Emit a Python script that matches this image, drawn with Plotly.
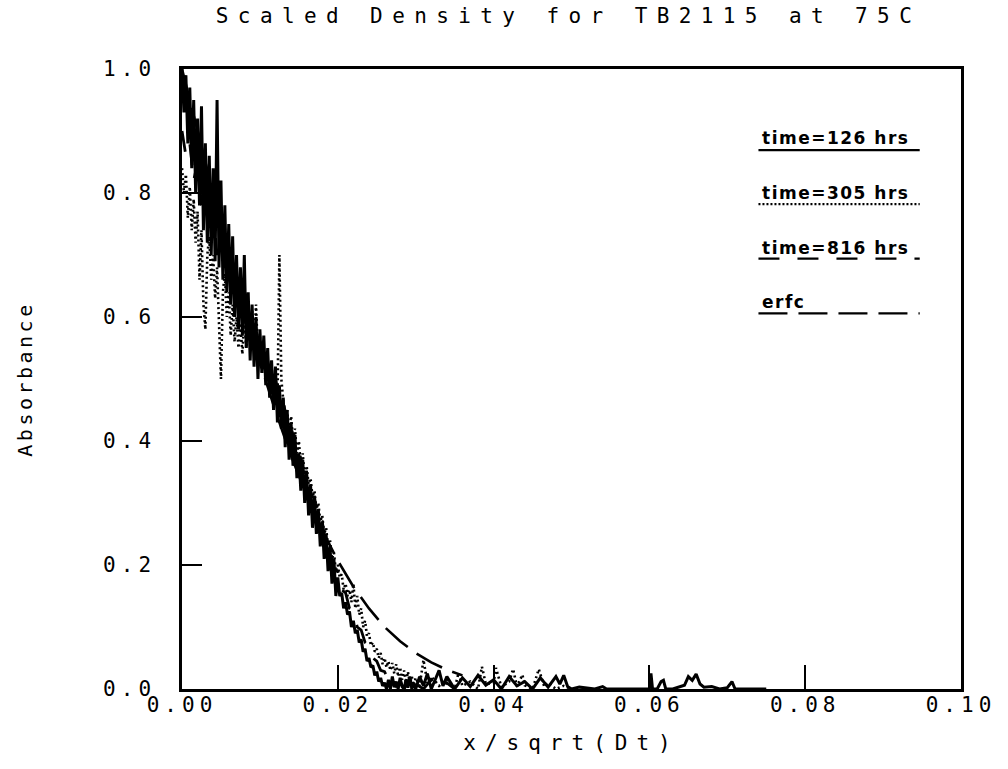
import plotly.graph_objects as go

# ---------------- data ----------------
step = 0.00025
y_126_main = [
    1.00, 0.93, 0.99, 0.88, 0.97, 0.84, 0.95, 0.80, 0.92, 0.78,
    0.94, 0.74, 0.88, 0.72, 0.86, 0.70, 0.84, 0.69, 0.95, 0.68,
    0.82, 0.66, 0.78, 0.64, 0.75, 0.62, 0.73, 0.60, 0.70, 0.58,
    0.68, 0.57, 0.70, 0.55, 0.64, 0.53, 0.62, 0.52, 0.60, 0.50,
    0.58, 0.51, 0.57, 0.49, 0.55, 0.47, 0.53, 0.45, 0.52, 0.43,
    0.49, 0.42, 0.47, 0.39, 0.45, 0.37, 0.43, 0.36, 0.41, 0.34,
    0.38, 0.32, 0.37, 0.30, 0.35, 0.28, 0.33, 0.26, 0.31, 0.25,
    0.29, 0.23, 0.27, 0.21, 0.25, 0.19, 0.23, 0.17, 0.21, 0.15,
    0.18, 0.15, 0.155, 0.13, 0.14, 0.12, 0.125, 0.10, 0.11, 0.09,
    0.095, 0.075, 0.08, 0.06, 0.065, 0.045, 0.05, 0.035, 0.038, 0.022,
    0.028, 0.012, 0.018, 0.005, 0.01, 0.0, 0.015, 0.0, 0.02, 0.003,
    0.012, 0.0, 0.018, 0.004, 0.0, 0.015, 0.002, 0.02, 0.0, 0.01,
    0.0,
]
x_126_tail = [0.0305, 0.031, 0.0315, 0.032, 0.0325, 0.033, 0.0335, 0.034, 0.035, 0.036,
              0.037, 0.038, 0.039, 0.040, 0.041, 0.042, 0.043, 0.044, 0.045, 0.046,
              0.047, 0.048, 0.0485, 0.049, 0.0495, 0.050, 0.051, 0.053, 0.054, 0.0545,
              0.055, 0.057, 0.060, 0.0602, 0.0604, 0.061, 0.0615, 0.0618, 0.0621, 0.063,
              0.0645, 0.065, 0.0655, 0.066, 0.0665, 0.067, 0.068, 0.069, 0.070, 0.0706,
              0.071, 0.073, 0.075]
y_126_tail = [0.02, 0.005, 0.025, 0.0, 0.015, 0.03, 0.005, 0.02, 0.0, 0.018,
              0.004, 0.022, 0.006, 0.015, 0.0, 0.02, 0.005, 0.012, 0.0, 0.018,
              0.003, 0.02, 0.008, 0.022, 0.004, 0.0, 0.003, 0.0, 0.004, 0.0,
              0.0, 0.0, 0.0, 0.025, 0.0, 0.0, 0.012, 0.014, 0.0, 0.0,
              0.006, 0.02, 0.014, 0.024, 0.008, 0.003, 0.004, 0.0, 0.002, 0.012,
              0.0, 0.0, 0.0]

y_305_main = [
    0.84, 0.80, 0.83, 0.76, 0.81, 0.74, 0.79, 0.72, 0.77, 0.66,
    0.74, 0.62, 0.58, 0.70, 0.73, 0.66, 0.70, 0.63, 0.68, 0.58,
    0.50, 0.64, 0.67, 0.60, 0.64, 0.57, 0.62, 0.56, 0.60, 0.55,
    0.59, 0.54, 0.60, 0.55, 0.58, 0.56, 0.61, 0.55, 0.62, 0.54,
    0.57, 0.51, 0.55, 0.50, 0.53, 0.48, 0.52, 0.47, 0.50, 0.46,
    0.70, 0.50, 0.46, 0.43, 0.45, 0.41, 0.44, 0.40, 0.42, 0.38,
    0.40, 0.36, 0.38, 0.34, 0.36, 0.33, 0.34, 0.31, 0.32, 0.29,
    0.30, 0.27, 0.28, 0.25, 0.26, 0.23, 0.24, 0.21, 0.22, 0.19,
    0.20, 0.18, 0.185, 0.16, 0.17, 0.15, 0.16, 0.14, 0.17, 0.13,
    0.15, 0.12, 0.13, 0.10, 0.11, 0.085, 0.09, 0.07, 0.075, 0.06,
    0.065, 0.05, 0.058, 0.04, 0.05, 0.035, 0.045, 0.03, 0.042, 0.025,
    0.04, 0.02, 0.035, 0.015, 0.03, 0.01, 0.028, 0.008, 0.02, 0.005,
    0.018,
]
x_305_tail = [0.0305, 0.031, 0.0315, 0.032, 0.033, 0.034, 0.035, 0.0355, 0.036, 0.037,
              0.038, 0.0385, 0.039, 0.040, 0.0403, 0.041, 0.042, 0.0425, 0.043, 0.0437,
              0.044, 0.045, 0.0458, 0.0465, 0.047, 0.048, 0.049, 0.050]
y_305_tail = [0.005, 0.047, 0.01, 0.02, 0.005, 0.015, 0.0, 0.026, 0.005, 0.012,
              0.0, 0.036, 0.008, 0.01, 0.034, 0.003, 0.012, 0.032, 0.004, 0.023,
              0.006, 0.0, 0.032, 0.004, 0.01, 0.0, 0.005, 0.0]

step_816 = 0.0005
y_816_main = [
    0.90, 0.86, 0.88, 0.82, 0.85, 0.78, 0.80, 0.74, 0.77, 0.70,
    0.73, 0.67, 0.69, 0.64, 0.66, 0.61, 0.63, 0.58, 0.59, 0.55,
    0.56, 0.52, 0.53, 0.49, 0.50, 0.46, 0.47, 0.42, 0.43, 0.38,
    0.39, 0.35, 0.35, 0.31, 0.31, 0.27, 0.27, 0.23, 0.23, 0.19,
    0.19, 0.16, 0.155, 0.13, 0.125, 0.10, 0.095, 0.075, 0.07, 0.05,
    0.045, 0.03, 0.028, 0.015, 0.018, 0.005, 0.012, 0.0, 0.01, 0.0,
    0.008,
]
x_816_tail = [0.031, 0.032, 0.033, 0.034, 0.035]
y_816_tail = [0.0, 0.015, 0.0, 0.01, 0.0]

x_erfc = [0.0, 0.002, 0.004, 0.006, 0.008, 0.010, 0.012, 0.014, 0.016, 0.018,
          0.020, 0.022, 0.024, 0.026, 0.028, 0.030, 0.032, 0.034, 0.036]
y_erfc = [1.0, 0.899, 0.800, 0.705, 0.613, 0.527, 0.448, 0.376, 0.312, 0.256,
          0.207, 0.165, 0.130, 0.100, 0.077, 0.058, 0.043, 0.031, 0.022]

legend_labels = ["time=126 hrs", "time=305 hrs", "time=816 hrs", "erfc"]
x_ticks = [0.0, 0.02, 0.04, 0.06, 0.08, 0.10]
x_ticktext = ["0.00", "0.02", "0.04", "0.06", "0.08", "0.10"]
y_ticks = [0.0, 0.2, 0.4, 0.6, 0.8, 1.0]
y_ticktext = ["0.0", "0.2", "0.4", "0.6", "0.8", "1.0"]


def spaced(text, px):
    return "<span style='letter-spacing:%spx'>%s</span>" % (px, text)


# ---------------- figure ----------------
x_126 = [round(i * step, 6) for i in range(len(y_126_main))] + x_126_tail
y_126 = y_126_main + y_126_tail
x_305 = [round(i * step, 6) for i in range(len(y_305_main))] + x_305_tail
y_305 = y_305_main + y_305_tail
x_816 = [round(i * step_816, 6) for i in range(len(y_816_main))] + x_816_tail
y_816 = y_816_main + y_816_tail

styles = [
    dict(width=3.0, dash="solid"),
    dict(width=2.6, dash="2px,3px"),
    dict(width=2.8, dash="21px,18px"),
    dict(width=2.6, dash="29px,11px"),
]
legend_dash = ["solid", "2px,2px", "21px,18px", "29px,11px"]

fig = go.Figure()
series = [(x_126, y_126), (x_305, y_305), (x_816, y_816), (x_erfc, y_erfc)]
for (xs, ys), st, name in zip(series, styles, legend_labels):
    fig.add_trace(go.Scatter(x=xs, y=ys, mode="lines", name=name,
                             line=dict(color="black", **st), showlegend=False))

# custom legend: label text with a line sample underneath
leg_y_text = [0.888, 0.800, 0.712, 0.625]
leg_y_line = [0.869, 0.782, 0.694, 0.606]
for lab, yt, yl, dsh in zip(legend_labels, leg_y_text, leg_y_line, legend_dash):
    fig.add_annotation(x=0.742, y=yt, xref="paper", yref="paper", text=spaced(lab, 1.5),
                       showarrow=False, xanchor="left", yanchor="middle",
                       font=dict(family="DejaVu Sans", size=17, color="black", weight="bold"))
    fig.add_shape(type="line", xref="paper", yref="paper", x0=0.740, x1=0.947,
                  y0=yl, y1=yl, line=dict(color="black", width=2.2, dash=dsh))

mono = "DejaVu Sans Mono"
tickfont = dict(family=mono, size=21, color="black")
fig.update_layout(
    width=1008, height=769,
    margin=dict(l=182, r=45, t=69, b=80),
    paper_bgcolor="white", plot_bgcolor="white",
    title=dict(text=spaced("Scaled Density for TB2115 at 75C", 9.4), x=0.564, xanchor="center",
               y=0.980, yanchor="middle", xref="container", yref="container",
               font=dict(family=mono, size=21, color="black")),
    xaxis=dict(range=[0, 0.1], tickvals=x_ticks, ticktext=[spaced(t, 5) for t in x_ticktext],
               ticks="inside", ticklen=24, tickwidth=2, tickcolor="black", showgrid=False,
               zeroline=False, showline=True, linewidth=2.5, linecolor="black", mirror=True,
               tickfont=tickfont, ticklabelstandoff=-5,
               title=dict(text=spaced("x/sqrt(Dt)", 9), font=dict(family=mono, size=21, color="black"),
                          standoff=20)),
    yaxis=dict(range=[0, 1.0], tickvals=y_ticks, ticktext=[spaced(t, 5) for t in y_ticktext],
               ticks="inside", ticklen=20, tickwidth=2, tickcolor="black", showgrid=False,
               zeroline=False, showline=True, linewidth=2.5, linecolor="black", mirror=True,
               tickfont=tickfont, ticklabelstandoff=19,
               title=dict(text=spaced("Absorbance", 3.5), font=dict(family=mono, size=20, color="black"),
                          standoff=66)),
)

fig.write_html("out.html")
